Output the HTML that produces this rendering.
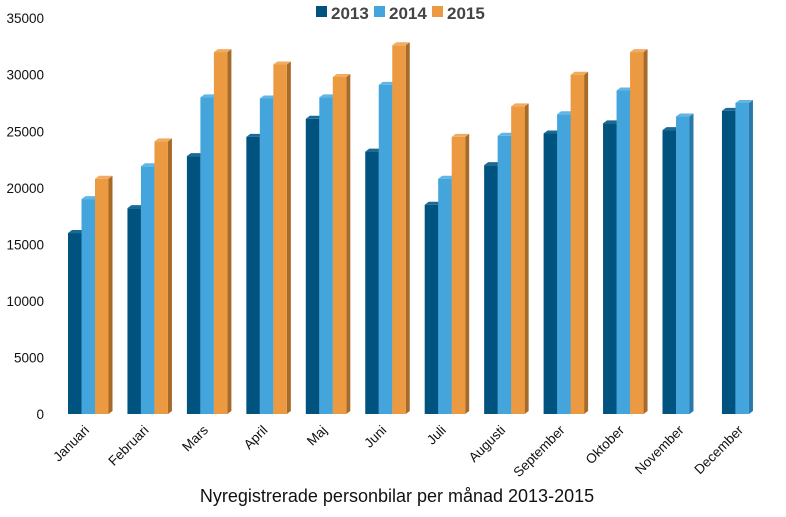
<!DOCTYPE html>
<html><head><meta charset="utf-8"><style>
body{margin:0;background:#fff;width:786px;height:512px;overflow:hidden;font-family:"Liberation Sans",sans-serif}
</style></head><body>
<svg id="s" width="786" height="512" xmlns="http://www.w3.org/2000/svg" font-family="Liberation Sans, sans-serif"></svg>
<script>
var s=document.getElementById('s');
var h='';
var z=414,k=0.01131;
var ticks=[0,5000,10000,15000,20000,25000,30000,35000];
ticks.forEach(function(t){h+='<text x="44" y="'+(z-t*k+5)+'" font-size="13.5" text-anchor="end" fill="#111">'+t+'</text>';});
var months=['Januari','Februari','Mars','April','Maj','Juni','Juli','Augusti','September','Oktober','November','December'];
var d=[[16000,19000,20800],[18200,21900,24100],[22800,28000,32000],[24500,27900,30900],[26100,28000,29800],[23200,29100,32600],[18500,20800,24500],[22000,24600,27200],[24800,26500,30000],[25700,28600,32000],[25100,26300],[26800,27500]];
var fc=['#00537e','#44a4dc','#ec9a42'],sc=['#003a5a','#2a78a8','#a86a28'],tc=['#1a6a96','#62b6e6','#f0ad62'];
for(var i=0;i<12;i++){
 var x0=68+i*59.45;
 for(var j=0;j<d[i].length;j++){
  var x=x0+j*13.5,w=13.5,y=z-d[i][j]*k,hh=z-y;
  h+='<polygon points="'+(x+w)+','+y+' '+(x+w+4)+','+(y-3)+' '+(x+w+4)+','+(z-3)+' '+(x+w)+','+z+'" fill="'+sc[j]+'"/>';
  h+='<polygon points="'+x+','+y+' '+(x+4)+','+(y-3)+' '+(x+w+4)+','+(y-3)+' '+(x+w)+','+y+'" fill="'+tc[j]+'"/>';
  h+='<rect x="'+x+'" y="'+y+'" width="'+w+'" height="'+hh+'" fill="'+fc[j]+'"/>';
 }
 var cx=x0+20;
 h+='<text transform="translate('+(cx+2)+',431) rotate(-45)" font-size="13.5" text-anchor="end" fill="#111">'+months[i]+'</text>';
}
var lx=[316,374,432],ly=['2013','2014','2015'];
for(var j=0;j<3;j++){h+='<rect x="'+lx[j]+'" y="6" width="11" height="11" fill="'+fc[j]+'"/><text x="'+(lx[j]+15)+'" y="19" font-size="17" font-weight="bold" fill="#444">'+ly[j]+'</text>';}
h+='<text x="397" y="502" font-size="18" text-anchor="middle" fill="#111">Nyregistrerade personbilar per månad 2013-2015</text>';
s.innerHTML=h;
</script>
</body></html>
